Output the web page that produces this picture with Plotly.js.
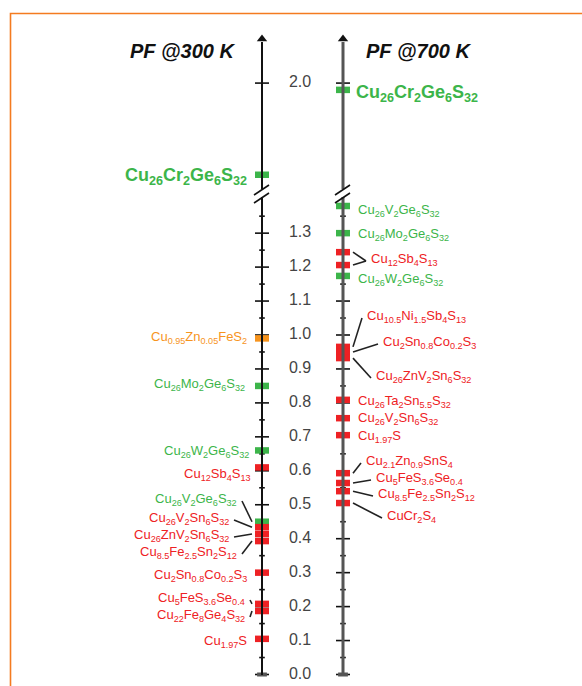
<!DOCTYPE html>
<html><head><meta charset="utf-8">
<script src="https://cdn.plot.ly/plotly-3.0.1.min.js"></script>
<style>html,body{margin:0;padding:0;background:#fff}#chart{width:582px;height:686px}</style>
</head><body><div id="chart"></div>
<script>
// ---------------- DATA ----------------
const tickValues = [0.0,0.1,0.2,0.3,0.4,0.5,0.6,0.7,0.8,0.9,1.0,1.1,1.2,1.3,2.0];
const tickLabels = ['0.0','0.1','0.2','0.3','0.4','0.5','0.6','0.7','0.8','0.9','1.0','1.1','1.2','1.3','2.0'];
const minorTickValues = [0.05,0.15,0.25,0.35,0.45,0.55,0.65,0.75,0.85,0.95,1.05,1.15,1.25,1.35];

const compounds300 = [
  'Cu<sub>26</sub>Cr<sub>2</sub>Ge<sub>6</sub>S<sub>32</sub>',
  'Cu<sub>0.95</sub>Zn<sub>0.05</sub>FeS<sub>2</sub>',
  'Cu<sub>26</sub>Mo<sub>2</sub>Ge<sub>6</sub>S<sub>32</sub>',
  'Cu<sub>26</sub>W<sub>2</sub>Ge<sub>6</sub>S<sub>32</sub>',
  'Cu<sub>12</sub>Sb<sub>4</sub>S<sub>13</sub>',
  'Cu<sub>26</sub>V<sub>2</sub>Ge<sub>6</sub>S<sub>32</sub>',
  'Cu<sub>26</sub>V<sub>2</sub>Sn<sub>6</sub>S<sub>32</sub>',
  'Cu<sub>26</sub>ZnV<sub>2</sub>Sn<sub>6</sub>S<sub>32</sub>',
  'Cu<sub>8.5</sub>Fe<sub>2.5</sub>Sn<sub>2</sub>S<sub>12</sub>',
  'Cu<sub>2</sub>Sn<sub>0.8</sub>Co<sub>0.2</sub>S<sub>3</sub>',
  'Cu<sub>5</sub>FeS<sub>3.6</sub>Se<sub>0.4</sub>',
  'Cu<sub>22</sub>Fe<sub>8</sub>Ge<sub>4</sub>S<sub>32</sub>',
  'Cu<sub>1.97</sub>S'
];
const pf300 = [1.73, 0.99, 0.85, 0.66, 0.61, 0.45, 0.434, 0.414, 0.393, 0.30, 0.208, 0.187, 0.105];
const family300 = ['Ge','chalco','Ge','Ge','other','Ge','other','other','other','other','other','other','other'];

const compounds700 = [
  'Cu<sub>26</sub>Cr<sub>2</sub>Ge<sub>6</sub>S<sub>32</sub>',
  'Cu<sub>26</sub>V<sub>2</sub>Ge<sub>6</sub>S<sub>32</sub>',
  'Cu<sub>26</sub>Mo<sub>2</sub>Ge<sub>6</sub>S<sub>32</sub>',
  'Cu<sub>12</sub>Sb<sub>4</sub>S<sub>13</sub>',
  'Cu<sub>12</sub>Sb<sub>4</sub>S<sub>13</sub>',
  'Cu<sub>26</sub>W<sub>2</sub>Ge<sub>6</sub>S<sub>32</sub>',
  'Cu<sub>10.5</sub>Ni<sub>1.5</sub>Sb<sub>4</sub>S<sub>13</sub>',
  'Cu<sub>2</sub>Sn<sub>0.8</sub>Co<sub>0.2</sub>S<sub>3</sub>',
  'Cu<sub>26</sub>ZnV<sub>2</sub>Sn<sub>6</sub>S<sub>32</sub>',
  'Cu<sub>26</sub>Ta<sub>2</sub>Sn<sub>5.5</sub>S<sub>32</sub>',
  'Cu<sub>26</sub>V<sub>2</sub>Sn<sub>6</sub>S<sub>32</sub>',
  'Cu<sub>1.97</sub>S',
  'Cu<sub>2.1</sub>Zn<sub>0.9</sub>SnS<sub>4</sub>',
  'Cu<sub>5</sub>FeS<sub>3.6</sub>Se<sub>0.4</sub>',
  'Cu<sub>8.5</sub>Fe<sub>2.5</sub>Sn<sub>2</sub>S<sub>12</sub>',
  'CuCr<sub>2</sub>S<sub>4</sub>'
];
const pf700 = [1.98, 1.38, 1.30, 1.244, 1.206, 1.174, 0.965, 0.950, 0.932, 0.809, 0.755, 0.705, 0.593, 0.564, 0.540, 0.505];
const family700 = ['Ge','Ge','Ge','other','other','Ge','other','other','other','other','other','other','other','other','other','other'];

// ---------------- LAYOUT (label placement, in pixels) ----------------
// [x edge px, y centre px, leader line?, show label?]
const labelPos300 = [
  [248,176,false],[248,337,false],[246,384,false],[250,451,false],[252,474,false],
  [238,499,true],[230,518,true],[230,535,true],[238,552,true],
  [248,575,false],[246,598,true],[246,615,true],[248,641,false]
];
const labelPos700 = [
  [355,93,false],[357,210,false],[357,234,false],[370,259,true],[370,259,true,false],
  [357,279,false],[366,316,true],[382,342,true],[375,376,true],
  [357,401,false],[357,418,false],[357,436,false],
  [365,461,true],[375,478,true],[377,494,true],[386,516,true]
];

const colorOf = {Ge:'#3cb54a', other:'#ee2124', chalco:'#f7941d'};
const BREAK_SHIFT = 0.258;
function disp(v){ return v > 1.5 ? v - BREAK_SHIFT : v; }
const PX0 = 262, PXU = 81, PY0 = 674.5, PYU = 339.5;
const fx = px => (px - PX0) / PXU;
const fy = py => (PY0 - py) / PYU;

const FONT = 'Liberation Sans, Arial, Helvetica, sans-serif';
const traces = [];
const shapes = [];
const annotations = [];

// axes (x=0 for 300 K, x=1 for 700 K)
[[0,'#111',2],[1,'#555',3]].forEach(([ax,col,w])=>{
  shapes.push({type:'line',xref:'x',yref:'y',x0:ax,x1:ax,y0:fy(675),y1:fy(197),line:{color:col,width:w}});
  shapes.push({type:'line',xref:'x',yref:'y',x0:ax,x1:ax,y0:fy(189),y1:fy(42),line:{color:col,width:w}});
  // break slashes
  [0,8].forEach(o=>{
    shapes.push({type:'line',xref:'x',yref:'y',x0:ax+fx(254)-fx(262),x1:ax+fx(269)-fx(262),
      y0:fy(195+o),y1:fy(185+o),line:{color:'#111',width:1.6}});
  });
  // major ticks
  traces.push({type:'scatter',mode:'markers',x:tickValues.map(()=>ax),y:tickValues.map(disp),
    marker:{symbol:'line-ew',size:10,color:'#111',line:{color:'#111',width:1.6}},hoverinfo:'skip'});
  // minor ticks
  traces.push({type:'scatter',mode:'markers',x:minorTickValues.map(()=>ax),y:minorTickValues.map(disp),
    marker:{symbol:'line-ew',size:4,color:'#111',line:{color:'#111',width:1.6}},hoverinfo:'skip'});
  // bottom cap
  traces.push({type:'scatter',mode:'markers',x:[ax],y:[0],
    marker:{symbol:'line-ew',size:7,color:'#555',line:{color:'#555',width:4}},hoverinfo:'skip'});
  // arrow head
  traces.push({type:'scatter',mode:'markers',x:[ax],y:[fy(39)],
    marker:{symbol:'triangle-up',size:9,color:'#111'},hoverinfo:'skip'});
});

// tick labels
traces.push({type:'scatter',mode:'text',x:tickValues.map(()=>fx(300)),y:tickValues.map(disp),
  text:tickLabels,textposition:'middle center',textfont:{family:FONT,size:16,color:'#444'},hoverinfo:'skip'});

// data markers
function addPanel(ax, names, vals, fams, pos, side){
  traces.push({type:'scatter',mode:'markers',x:vals.map(()=>ax),y:vals.map(disp),
    marker:{symbol:'line-ew',size:10,color:fams.map(f=>colorOf[f]),
      line:{color:fams.map(f=>colorOf[f]),width:6.5}},hoverinfo:'skip'});
  names.forEach((n,i)=>{
    const [ex,ey,lead,show] = pos[i];
    const big = disp(vals[i]) !== vals[i];
    if (show !== false) {
      annotations.push({xref:'x',yref:'y',x:fx(ex),y:fy(ey),showarrow:false,
        xanchor: side==='left' ? 'right' : 'left', yanchor:'middle',
        text: big ? '<b>'+n+'</b>' : n, borderpad:0,
        font:{family:FONT,size: big ? 18 : 13,color:colorOf[fams[i]]}});
    }
    if (lead) {
      const mx = side==='left' ? fx(252) : fx(353);
      const lx = side==='left' ? fx(ex+4) : fx(ex-4);
      shapes.push({type:'line',xref:'x',yref:'y',x0:lx,y0:fy(ey+2),x1:mx,y1:disp(vals[i]),
        line:{color:'#222',width:1.6}});
    }
  });
}
addPanel(0, compounds300, pf300, family300, labelPos300, 'left');
addPanel(1, compounds700, pf700, family700, labelPos700, 'right');

// titles
annotations.push({xref:'x',yref:'y',x:fx(183),y:fy(51),showarrow:false,text:'<b><i>PF @300 K</i></b>',
  font:{family:FONT,size:20,color:'#111'}});
annotations.push({xref:'x',yref:'y',x:fx(419),y:fy(51),showarrow:false,text:'<b><i>PF @700 K</i></b>',
  font:{family:FONT,size:20,color:'#111'}});

// orange frame
shapes.push({type:'rect',xref:'paper',yref:'paper',x0:10.5/582,x1:1.2,y0:-0.2,y1:1-13.5/686,
  line:{color:'#f47b20',width:1.6},fillcolor:'rgba(0,0,0,0)'});

const layout = {
  width:582,height:686,margin:{l:0,r:0,t:0,b:0},showlegend:false,
  paper_bgcolor:'#fff',plot_bgcolor:'#fff',
  xaxis:{visible:false,range:[fx(0),fx(582)],fixedrange:true},
  yaxis:{visible:false,range:[fy(686),fy(0)],fixedrange:true},
  shapes:shapes,annotations:annotations
};
Plotly.newPlot('chart',traces,layout,{staticPlot:true,displayModeBar:false});
</script></body></html>
